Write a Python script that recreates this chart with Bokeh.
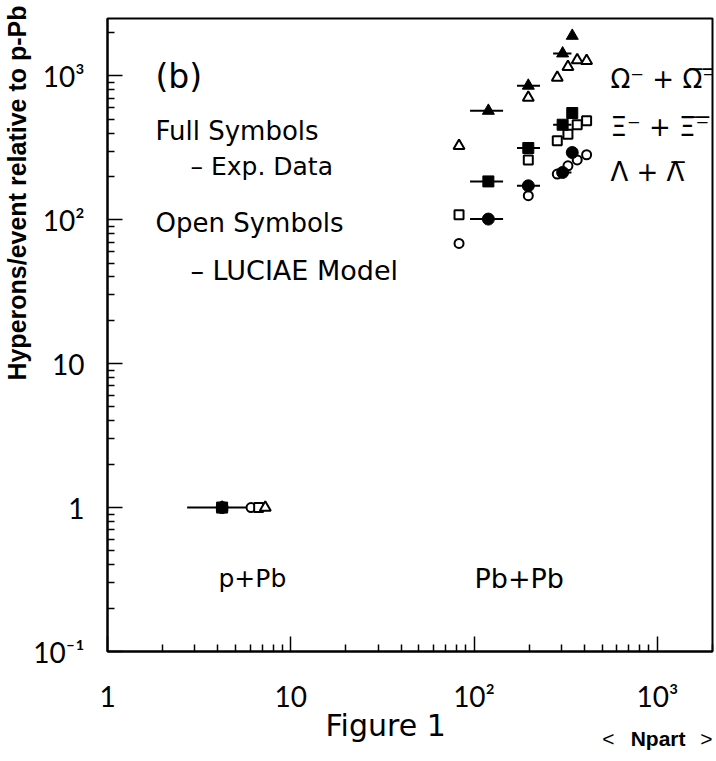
import math
from bokeh.plotting import figure
from bokeh.models import Label, FixedTicker, Title
from bokeh.embed import file_html
from bokeh.resources import INLINE

# ---------------- data ----------------
# p+Pb reference point (all species normalised to 1)
ppb_npart = [4.22]
ppb_npart_lo = [2.72]
ppb_npart_hi = [6.5]
ppb_value = [1.0]
ppb_model_npart_lambda = [6.07]
ppb_model_npart_xi = [6.68]
ppb_model_npart_omega = [7.26]

# Pb+Pb experimental data (full symbols)
exp_npart = [119.7, 197.7, 304.3, 343.4]
exp_npart_lo = [95.1, 171.5, 270.0, 343.4]
exp_npart_hi = [144.0, 229.0, 340.0, 343.4]
exp_lambda = [101.0, 172.0, 213.0, 293.0]
exp_xi = [184.5, 315.0, 457.0, 551.0]
exp_omega = [571.0, 853.0, 1429.0, 1895.0]

# LUCIAE model (open symbols)
model_npart = [82.8, 197.7, 284.5, 325.3, 365.5, 411.3]
model_lambda = [68.4, 146.8, 207.6, 237.0, 260.0, 282.7]
model_xi = [108.3, 260.0, 353.6, 392.6, 457.0, 487.0]
model_omega = [326.5, 706.6, 973.0, 1155.0, 1285.0, 1271.0]

x_major = [1, 10, 100, 1000]
x_labels = {1: "1", 10: "10", 100: "10\u00b2", 1000: "10\u00b3"}
y_major = [0.1, 1, 10, 100, 1000]
y_labels = {0.1: "10\u207b\u00b9", 1: "1", 10: "10", 100: "10\u00b2", 1000: "10\u00b3"}

X_RANGE = (1, 2000)
Y_RANGE = (0.1, 2500)

# ---------------- layout ----------------
FRAME_L, FRAME_T, FRAME_W, FRAME_H = 107, 18, 605, 633   # canvas pixels
CANVAS_W, CANVAS_H = 716, 761

def minors(lo_exp, hi_exp):
    out = []
    for e in range(lo_exp, hi_exp + 1):
        for m in range(2, 10):
            out.append(m * 10.0 ** e)
    return out

p = figure(
    width=CANVAS_W, height=CANVAS_H,
    x_axis_type="log", y_axis_type="log",
    x_range=X_RANGE, y_range=Y_RANGE,
    min_border_left=FRAME_L, min_border_top=FRAME_T,
    min_border_right=CANVAS_W - FRAME_L - FRAME_W,
    min_border_bottom=CANVAS_H - FRAME_T - FRAME_H,
    output_backend="svg", toolbar_location=None,
)
p.grid.visible = False
p.background_fill_color = "white"
p.border_fill_color = "white"
p.outline_line_color = "black"
p.outline_line_width = 2

TICK_FONT = "Lato"
TEXT_FONT = "DejaVu Sans"

p.xaxis.ticker = FixedTicker(ticks=x_major, minor_ticks=minors(0, 3))
p.yaxis.ticker = FixedTicker(ticks=y_major, minor_ticks=minors(-1, 3))
p.xaxis.major_label_overrides = x_labels
p.yaxis.major_label_overrides = y_labels
for ax in (p.xaxis, p.yaxis):
    ax.axis_line_color = "black"
    ax.axis_line_width = 2
    ax.major_tick_line_color = "black"
    ax.minor_tick_line_color = "black"
    ax.major_tick_line_width = 1.5
    ax.minor_tick_line_width = 1.5
    ax.major_tick_in = 15
    ax.major_tick_out = 0
    ax.minor_tick_in = 7
    ax.minor_tick_out = 0
    ax.major_label_text_font = TICK_FONT
    ax.major_label_text_font_size = "28px"
    ax.major_label_text_color = "black"
p.xaxis.major_label_standoff = 27
p.yaxis.major_label_standoff = 23

# titles living in the side panels
p.add_layout(Title(text="Hyperons/event relative to p-Pb", align="right", offset=-13,
                   text_font="Liberation Sans", text_font_size="25px",
                   text_font_style="bold", text_color="black", standoff=0), "left")
p.add_layout(Title(text="Figure 1", align="left", offset=218, vertical_align="top",
                   text_font=TEXT_FONT, text_font_size="30px",
                   text_font_style="normal", text_color="black", standoff=-15), "below")
# "< Npart >" shares the row of "Figure 1" (zero-height panels)
for txt, off, style in (("<", 98, "normal"), ("Npart", 27, "bold"), (">", 0, "normal")):
    p.add_layout(Title(text=txt, align="right", offset=off, vertical_align="bottom",
                       text_font="Liberation Sans", text_font_size="21px",
                       text_font_style=style, text_color="black", standoff=-25), "below")

lx0, lx1 = math.log10(X_RANGE[0]), math.log10(X_RANGE[1])
ly0, ly1 = math.log10(Y_RANGE[0]), math.log10(Y_RANGE[1])

def px_x(px):
    return 10 ** (lx0 + (px - FRAME_L) / FRAME_W * (lx1 - lx0))

def px_y(py):
    return 10 ** (ly0 + (FRAME_T + FRAME_H - py) / FRAME_H * (ly1 - ly0))

# ---------------- marks ----------------
p.segment(x0=ppb_npart_lo, x1=ppb_npart_hi, y0=ppb_value, y1=ppb_value,
          line_color="black", line_width=2)
for vals in (exp_lambda, exp_xi, exp_omega):
    p.segment(x0=exp_npart_lo, x1=exp_npart_hi, y0=vals, y1=vals,
              line_color="black", line_width=2)

open_kw = dict(line_color="black", line_width=2, fill_color="white")
p.scatter(model_npart, model_lambda, marker="circle", size=9, **open_kw)
p.scatter(model_npart, model_xi, marker="square", size=9, **open_kw)
p.scatter(model_npart, model_omega, marker="triangle", size=11, **open_kw)
p.scatter(ppb_model_npart_lambda, ppb_value, marker="circle", size=9, **open_kw)
p.scatter(ppb_model_npart_xi, ppb_value, marker="square", size=9, **open_kw)
p.scatter(ppb_model_npart_omega, ppb_value, marker="triangle", size=11, **open_kw)

full_kw = dict(line_color="black", fill_color="black")
p.scatter(exp_npart, exp_lambda, marker="circle", size=12, **full_kw)
p.scatter(exp_npart, exp_xi, marker="square", size=11, **full_kw)
p.scatter(exp_npart, exp_omega, marker="triangle", size=12, **full_kw)
p.scatter(ppb_npart, ppb_value, marker="circle", size=12, **full_kw)
p.scatter(ppb_npart, ppb_value, marker="triangle", size=12, **full_kw)
p.scatter(ppb_npart, ppb_value, marker="square", size=11, **full_kw)

# ---------------- texts ----------------
def add_text(text, px, py, size, font=TEXT_FONT, align="left", style="normal"):
    p.add_layout(Label(x=px_x(px), y=px_y(py), text=text, text_font=font,
                       text_font_size=size, text_font_style=style,
                       text_align=align, text_baseline="middle",
                       text_color="black"))

add_text("(b)", 155, 76, "33px")
add_text("Full Symbols", 155, 130, "26px")
add_text("\u2013 Exp. Data", 190, 166, "25px")
add_text("Open Symbols", 155, 222, "26px")
add_text("\u2013 LUCIAE Model", 190, 270, "27px")

add_text("\u03a9\u207b + \u03a9\u0305\u207b\u0305", 610, 78, "26px")
add_text("\u039e\u207b + \u039e\u0305\u207b\u0305", 610, 126, "26px")
add_text("\u039b + \u039b\u0305", 610, 171, "26px")

add_text("p+Pb", 218, 578, "25px")
add_text("Pb+Pb", 474, 578, "27px")

open("out.html", "w").write(file_html(p, INLINE))
